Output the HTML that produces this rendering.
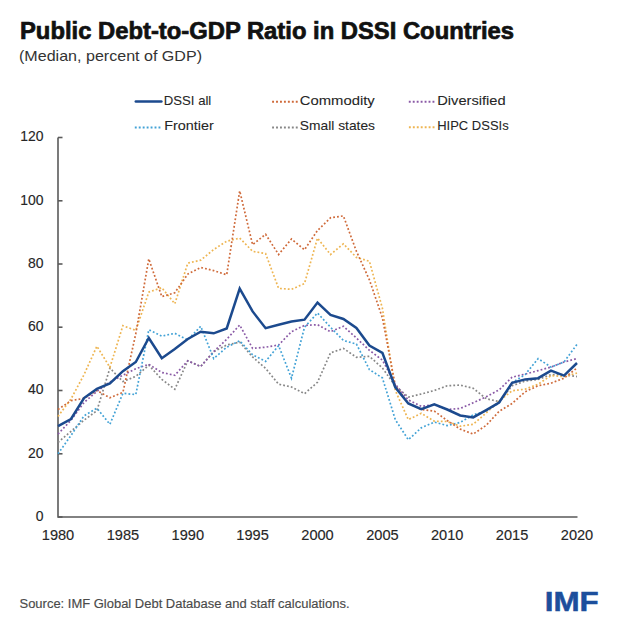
<!DOCTYPE html>
<html><head><meta charset="utf-8"><style>
html,body{margin:0;padding:0;background:#fff;}
body{width:620px;height:621px;position:relative;overflow:hidden;font-family:"Liberation Sans",sans-serif;}
</style></head><body>
<svg width="620" height="621" viewBox="0 0 620 621" style="position:absolute;left:0;top:0">
<g fill="none" stroke="#5a5a5a" stroke-width="1.6">
<polyline points="58,137.5 58,517 577.5,517" stroke-linejoin="miter"/>
<line x1="58" y1="517.0" x2="62.5" y2="517.0"/>
<line x1="58" y1="453.8" x2="62.5" y2="453.8"/>
<line x1="58" y1="390.5" x2="62.5" y2="390.5"/>
<line x1="58" y1="327.2" x2="62.5" y2="327.2"/>
<line x1="58" y1="264.0" x2="62.5" y2="264.0"/>
<line x1="58" y1="200.8" x2="62.5" y2="200.8"/>
<line x1="58" y1="137.5" x2="62.5" y2="137.5"/>
</g>
<g font-family="Liberation Sans, sans-serif" font-size="15" fill="#262626" stroke="#262626" stroke-width="0.15" text-anchor="end"><text transform="translate(43.4,520.9) scale(0.93,1)">0</text>
<text transform="translate(43.4,457.6) scale(0.93,1)">20</text>
<text transform="translate(43.4,394.4) scale(0.93,1)">40</text>
<text transform="translate(43.4,331.1) scale(0.93,1)">60</text>
<text transform="translate(43.4,267.9) scale(0.93,1)">80</text>
<text transform="translate(43.4,204.7) scale(0.93,1)">100</text>
<text transform="translate(43.4,141.4) scale(0.93,1)">120</text></g>
<g font-family="Liberation Sans, sans-serif" font-size="14.6" fill="#262626" stroke="#262626" stroke-width="0.15" text-anchor="middle"><text x="58.0" y="540">1980</text>
<text x="122.9" y="540">1985</text>
<text x="187.8" y="540">1990</text>
<text x="252.6" y="540">1995</text>
<text x="317.5" y="540">2000</text>
<text x="382.4" y="540">2005</text>
<text x="447.2" y="540">2010</text>
<text x="512.1" y="540">2015</text>
<text x="577.0" y="540">2020</text></g>
<polyline points="58.0,442.4 71.0,431.3 84.0,420.2 96.9,410.7 109.9,368.0 122.9,381.6 135.8,376.3 148.8,365.2 161.8,379.4 174.8,389.2 187.8,360.8 200.7,366.5 213.7,351.6 226.7,345.0 239.7,342.1 252.6,357.0 265.6,368.4 278.6,384.2 291.5,387.0 304.5,393.7 317.5,382.3 330.5,352.9 343.4,348.4 356.4,357.3 369.4,356.3 382.4,368.0 395.3,385.8 408.3,397.1 421.3,394.0 434.3,390.5 447.2,385.8 460.2,385.1 473.2,388.3 486.2,398.7 499.1,401.6 512.1,385.8 525.1,381.0 538.1,379.4 551.0,374.7 564.0,374.7 577.0,376.6" fill="none" stroke="#878787" stroke-width="1.7" stroke-dasharray="1.8 2.1"/>
<polyline points="58.0,434.1 71.0,420.2 84.0,402.5 96.9,391.4 109.9,382.0 122.9,375.3 135.8,368.7 148.8,364.3 161.8,372.5 174.8,375.3 187.8,360.8 200.7,366.5 213.7,351.6 226.7,339.3 239.7,325.0 252.6,348.4 265.6,347.2 278.6,345.0 291.5,331.7 304.5,325.4 317.5,324.7 330.5,331.7 343.4,326.3 356.4,338.0 369.4,350.3 382.4,360.1 395.3,384.2 408.3,400.0 421.3,406.3 434.3,404.7 447.2,409.5 460.2,408.5 473.2,402.8 486.2,396.8 499.1,389.9 512.1,377.2 525.1,374.1 538.1,370.6 551.0,367.1 564.0,362.0 577.0,358.6" fill="none" stroke="#8a5aa6" stroke-width="1.7" stroke-dasharray="1.8 2.1"/>
<polyline points="58.0,453.8 71.0,435.4 84.0,415.8 96.9,408.2 109.9,424.3 122.9,393.3 135.8,394.6 148.8,329.8 161.8,336.1 174.8,333.3 187.8,339.9 200.7,326.3 213.7,358.6 226.7,347.2 239.7,340.8 252.6,354.8 265.6,361.4 278.6,345.6 291.5,378.2 304.5,327.2 317.5,313.0 330.5,327.2 343.4,340.5 356.4,344.0 369.4,369.6 382.4,377.9 395.3,419.6 408.3,439.8 421.3,427.8 434.3,422.1 447.2,425.6 460.2,422.4 473.2,414.9 486.2,411.1 499.1,403.1 512.1,382.6 525.1,374.7 538.1,358.6 551.0,367.1 564.0,362.0 577.0,344.3" fill="none" stroke="#42a2d6" stroke-width="1.7" stroke-dasharray="1.8 2.1"/>
<polyline points="58.0,416.4 71.0,399.0 84.0,374.7 96.9,346.2 109.9,367.4 122.9,325.7 135.8,330.4 148.8,292.1 161.8,287.7 174.8,303.8 187.8,263.1 200.7,260.2 213.7,249.5 226.7,241.2 239.7,238.1 252.6,251.3 265.6,253.6 278.6,288.4 291.5,289.3 304.5,283.6 317.5,238.1 330.5,254.5 343.4,243.8 356.4,257.4 369.4,261.2 382.4,308.3 395.3,390.5 408.3,419.6 421.3,413.3 434.3,421.2 447.2,421.5 460.2,426.2 473.2,424.3 486.2,413.0 499.1,400.9 512.1,390.8 525.1,389.2 538.1,384.2 551.0,375.6 564.0,376.6 577.0,373.1" fill="none" stroke="#eeb552" stroke-width="1.7" stroke-dasharray="1.8 2.1"/>
<polyline points="58.0,409.5 71.0,400.6 84.0,398.4 96.9,390.5 109.9,397.8 122.9,392.4 135.8,333.6 148.8,258.9 161.8,296.6 174.8,292.8 187.8,274.1 200.7,267.5 213.7,270.6 226.7,274.8 239.7,190.9 252.6,244.7 265.6,234.3 278.6,254.5 291.5,239.0 304.5,249.8 317.5,230.5 330.5,217.8 343.4,215.9 356.4,251.3 369.4,279.8 382.4,317.8 395.3,385.8 408.3,403.1 421.3,409.5 434.3,411.1 447.2,420.5 460.2,429.1 473.2,434.1 486.2,425.3 499.1,411.4 512.1,403.5 525.1,391.8 538.1,385.8 551.0,383.2 564.0,378.2 577.0,368.0" fill="none" stroke="#cf6a3a" stroke-width="1.7" stroke-dasharray="1.8 2.1"/>
<polyline points="58.0,426.2 71.0,419.0 84.0,398.1 96.9,388.9 109.9,383.5 122.9,371.2 135.8,362.0 148.8,338.0 161.8,358.2 174.8,349.1 187.8,339.0 200.7,331.7 213.7,333.3 226.7,328.5 239.7,288.7 252.6,311.4 265.6,328.2 278.6,324.7 291.5,321.6 304.5,319.7 317.5,302.6 330.5,314.9 343.4,319.0 356.4,327.9 369.4,345.6 382.4,352.9 395.3,387.3 408.3,403.5 421.3,409.2 434.3,404.4 447.2,409.5 460.2,415.5 473.2,417.4 486.2,410.1 499.1,402.5 512.1,382.9 525.1,379.4 538.1,378.2 551.0,370.6 564.0,375.6 577.0,363.0" fill="none" stroke="#1c4a8e" stroke-width="2.5" stroke-linejoin="miter" stroke-miterlimit="6" stroke-linecap="butt"/>
<!-- legend -->
<g stroke-width="2">
<line x1="135.8" y1="101.4" x2="161.4" y2="101.4" stroke="#1c4a8e" stroke-width="2.5" stroke-linecap="round"/>
<line x1="272.1" y1="101.8" x2="297.9" y2="101.8" stroke="#cf6a3a" stroke-dasharray="1.9 2.05"/>
<line x1="408.8" y1="101.8" x2="434.6" y2="101.8" stroke="#8a5aa6" stroke-dasharray="1.9 2.05"/>
<line x1="134.8" y1="127.4" x2="160.6" y2="127.4" stroke="#42a2d6" stroke-dasharray="1.9 2.05"/>
<line x1="272.1" y1="127.4" x2="297.9" y2="127.4" stroke="#878787" stroke-dasharray="1.9 2.05"/>
<line x1="408.9" y1="127.3" x2="434.7" y2="127.3" stroke="#eeb552" stroke-dasharray="1.9 2.05"/>
</g>
<g font-family="Liberation Sans, sans-serif" font-size="13" fill="#262626" stroke="#262626" stroke-width="0.08">
<text x="163.8" y="105" textLength="47.5" lengthAdjust="spacingAndGlyphs">DSSI all</text>
<text x="299.8" y="105" textLength="75" lengthAdjust="spacingAndGlyphs">Commodity</text>
<text x="437.2" y="105" textLength="68.5" lengthAdjust="spacingAndGlyphs">Diversified</text>
<text x="164.3" y="130.4" textLength="49.5" lengthAdjust="spacingAndGlyphs">Frontier</text>
<text x="299.8" y="130.4" textLength="75.2" lengthAdjust="spacingAndGlyphs">Small states</text>
<text x="437.2" y="130.4" textLength="71.5" lengthAdjust="spacingAndGlyphs">HIPC DSSIs</text>
</g>
<text x="20" y="38.9" font-family="Liberation Sans, sans-serif" font-weight="bold" font-size="23" fill="#111" textLength="494" stroke="#111" stroke-width="0.7" lengthAdjust="spacingAndGlyphs">Public Debt-to-GDP Ratio in DSSI Countries</text>
<text x="19" y="60.7" font-family="Liberation Sans, sans-serif" font-size="15" fill="#333" textLength="183" lengthAdjust="spacingAndGlyphs">(Median, percent of GDP)</text>
<text x="19.5" y="607.8" font-family="Liberation Sans, sans-serif" font-size="12.5" fill="#4a4a4a" stroke="#4a4a4a" stroke-width="0.15" textLength="330" lengthAdjust="spacingAndGlyphs">Source: IMF Global Debt Database and staff calculations.</text>
<text x="0" y="0" transform="translate(544.8,611.3) scale(1.14,1)" font-family="Liberation Sans, sans-serif" font-weight="bold" font-size="27.5" fill="#1c4f9c" stroke="#1c4f9c" stroke-width="0.5">IMF</text>
</svg>
</body></html>
